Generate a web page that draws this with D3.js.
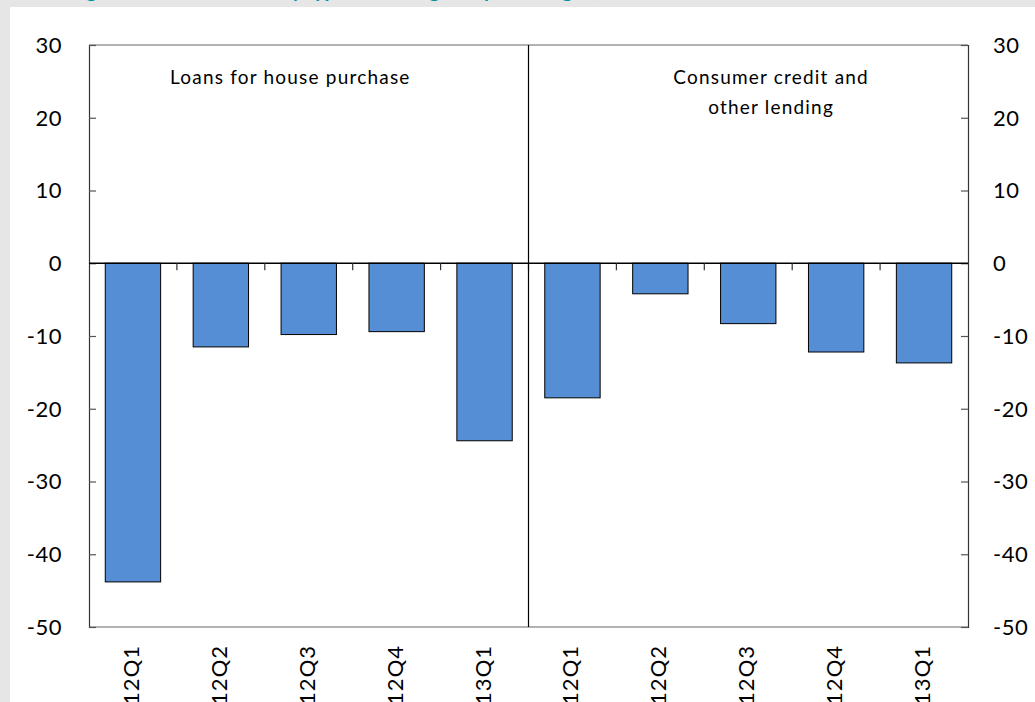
<!DOCTYPE html>
<html>
<head>
<meta charset="utf-8">
<script src="https://cdn.jsdelivr.net/npm/d3@7"></script>
<style>
  body { margin: 0; background: #e6e6e6; }
  svg { display: block; }
  text { font-family: Lato, "Open Sans", sans-serif; fill: #000; }
</style>
</head>
<body>
<svg id="chart" width="1035" height="702"></svg>
<script>
// quarters shown along the bottom, repeated for each panel
var quarters = ["12Q1", "12Q2", "12Q3", "12Q4", "13Q1"];
var panelNames = [["Loans for house purchase"], ["Consumer credit and", "other lending"]];
// net percentages
var houseValues = [-43.8, -11.5, -9.8, -9.4, -24.4];
var consumerValues = [-18.5, -4.2, -8.3, -12.2, -13.7];
var yTicks = [30, 20, 10, 0, -10, -20, -30, -40, -50];

(function () {
  var svg = d3.select("#chart");
  var margin = {top: 45, right: 67, bottom: 75, left: 89};
  var width = +svg.attr("width") - margin.left - margin.right;
  var height = +svg.attr("height") - margin.top - margin.bottom;

  // white card with the grey strip left and top
  svg.append("rect").attr("x", 10).attr("y", 7)
    .attr("width", 1035).attr("height", 702).attr("fill", "#fff");

  // title, cut off above the frame (only descenders show)
  svg.append("text")
    .attr("x", 40).attr("y", -3)
    .style("fill", "#00929f").style("font-weight", "bold").style("font-size", "20px")
    .text("Change in credit standards by type of lending (net percentages)");

  var data = [];
  quarters.forEach(function (q, i) { data.push({key: "h" + i, label: q, value: houseValues[i]}); });
  quarters.forEach(function (q, i) { data.push({key: "c" + i, label: q, value: consumerValues[i]}); });

  var x = d3.scaleBand().domain(data.map(function (d) { return d.key; }))
    .range([0, width]).paddingInner(0.37).paddingOuter(0.185);
  var step = x.step();
  var y = d3.scaleLinear().domain([-50, 30]).range([height, 0]);

  var g = svg.append("g")
    .attr("transform", "translate(" + margin.left + "," + margin.top + ")");

  // frame
  g.append("line").attr("x1", 0).attr("x2", width).attr("y1", 0).attr("y2", 0)
    .attr("stroke", "#999").attr("stroke-width", 1.5);
  g.append("line").attr("x1", 0).attr("x2", width).attr("y1", height).attr("y2", height)
    .attr("stroke", "#999").attr("stroke-width", 1.5);

  // left and right axes, ticks pointing inward
  var left = g.append("g").call(d3.axisRight(y).tickValues(yTicks).tickSize(7).tickFormat(""));
  var right = g.append("g").attr("transform", "translate(" + width + ",0)")
    .call(d3.axisLeft(y).tickValues(yTicks).tickSize(7).tickFormat(""));
  [left, right].forEach(function (a) {
    a.select(".domain").attr("stroke", "#333").attr("stroke-width", 1.2);
    a.selectAll(".tick line").attr("stroke", "#555").attr("stroke-width", 1.2);
  });

  g.selectAll(".ylab-l").data(yTicks).enter().append("text")
    .attr("x", -27).attr("y", function (d) { return y(d); })
    .attr("dy", "0.36em").attr("text-anchor", "end")
    .style("font-size", "22px").style("letter-spacing", "0.5px")
    .text(function (d) { return d; });
  g.selectAll(".ylab-r").data(yTicks).enter().append("text")
    .attr("x", width + 25).attr("y", function (d) { return y(d); })
    .attr("dy", "0.36em").attr("text-anchor", "start")
    .style("font-size", "22px").style("letter-spacing", "0.5px")
    .text(function (d) { return d; });

  // bars
  g.selectAll(".bar").data(data).enter().append("rect")
    .attr("x", function (d) { return x(d.key); })
    .attr("width", x.bandwidth())
    .attr("y", y(0))
    .attr("height", function (d) { return y(d.value) - y(0); })
    .attr("fill", "#558ed5").attr("stroke", "#000").attr("stroke-width", 1);

  // zero line with category ticks pointing down
  g.append("line").attr("x1", 0).attr("x2", width).attr("y1", y(0)).attr("y2", y(0))
    .attr("stroke", "#000").attr("stroke-width", 1.3);
  d3.range(1, data.length).forEach(function (i) {
    g.append("line").attr("x1", i * step).attr("x2", i * step)
      .attr("y1", y(0)).attr("y2", y(0) + 7)
      .attr("stroke", "#333").attr("stroke-width", 1.2);
  });

  // divider between the two panels
  g.append("line").attr("x1", 5 * step).attr("x2", 5 * step)
    .attr("y1", 0).attr("y2", height).attr("stroke", "#000").attr("stroke-width", 1.2);

  // panel names, first lines share one baseline
  panelNames.forEach(function (lines, p) {
    var cx = (p === 0 ? 2.29 : 7.76) * step;
    var t = g.append("text").attr("text-anchor", "middle")
      .style("font-size", "19px").style("letter-spacing", "1.2px");
    lines.forEach(function (line, j) {
      t.append("tspan").attr("x", cx).attr("y", 39 + j * 30).text(line);
    });
  });

  // rotated quarter labels (cut by the bottom edge, as in the original)
  g.selectAll(".xlab").data(data).enter().append("text")
    .attr("transform", function (d) {
      return "translate(" + (x(d.key) + x.bandwidth() / 2 + 6) + "," + (height + 18) + ") rotate(-90)";
    })
    .attr("text-anchor", "end")
    .style("font-size", "22px").style("letter-spacing", "1px")
    .text(function (d) { return d.label; });
}());
</script>
</body>
</html>
